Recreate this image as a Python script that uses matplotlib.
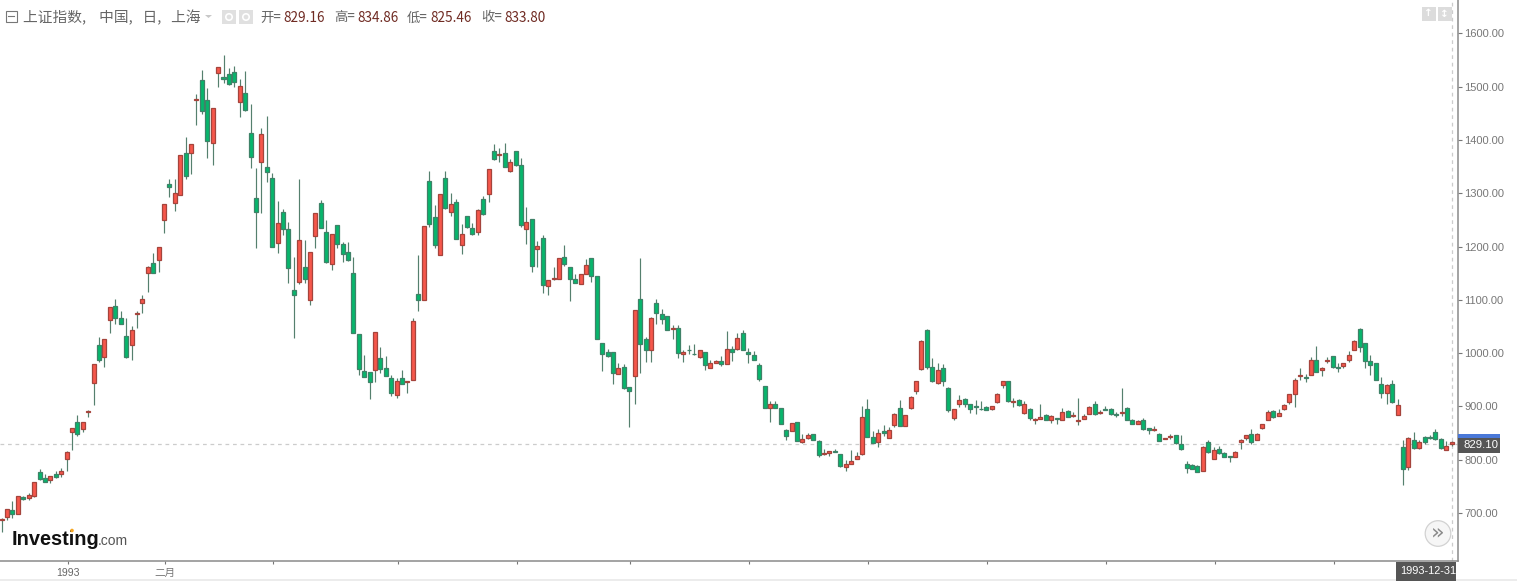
import matplotlib
matplotlib.use("Agg")
import matplotlib.pyplot as plt
import matplotlib.transforms as mtransforms
from matplotlib.patches import Rectangle, Circle, Polygon
import numpy as np

plt.rcParams["font.family"] = ["Noto Sans CJK SC", "DejaVu Sans"]

opens = [
    687, 692.7, 706.5, 699, 730.9, 729, 731.5, 776.6, 765.3, 762,
    774, 774, 801.6, 851.7, 871.7, 857.3, 889.5, 944.3, 1016.2, 992.4,
    1062.5, 1088.8, 1066.3, 1032.5, 1015.6, 1073.5, 1095, 1149.5, 1168.3, 1174.6,
    1249.6, 1316.6, 1282.2, 1297.2, 1374.8, 1374.8, 1474.3, 1512.4, 1474.3, 1394.2,
    1525.6, 1517.4, 1523, 1526.8, 1471.8, 1488.7, 1412.3, 1290.3, 1358.5, 1349.7,
    1327.9, 1207, 1264.6, 1232.1, 1118.2, 1133.3, 1160.8, 1099.4, 1219.6, 1281.5,
    1227.1, 1167.1, 1239.6, 1204, 1189.6, 1149.5, 1036.2, 966.2, 964.3, 969.3,
    991.2, 973, 953, 921.7, 953, 945.5, 949.2, 1110.7, 1100.6, 1322.8,
    1255.8, 1183.2, 1327.8, 1264.6, 1282.7, 1203.3, 1257.7, 1233.9, 1227, 1288.4,
    1299, 1379.7, 1371, 1376, 1342, 1379.7, 1353.4, 1232, 1250.8, 1194.5,
    1216.4, 1125.7, 1138.2, 1140, 1180.1, 1162, 1140, 1129.4, 1148.8, 1178.2,
    1144.4, 1019.9, 1003, 1001.8, 961.7, 974.9, 937.3, 958, 1102.5, 1025.6,
    1006.8, 1093.8, 1072.5, 1070.6, 1045, 1046.8, 998, 1006, 999.3, 993.6,
    1003, 973, 981.8, 984.9, 979.9, 1007.4, 1008, 1038, 1001.8, 996.8,
    977.4, 938.6, 897.3, 904.8, 897.3, 856, 854, 870.4, 833.5, 841,
    848.5, 834.8, 811, 812.2, 816.6, 811, 786.6, 792.2, 801.6, 810.4,
    895.5, 842.9, 833.5, 854.2, 841.7, 866, 897.3, 862.9, 896.7, 929.9,
    969.9, 1043.1, 974.3, 944.3, 973, 934.2, 878.6, 904.2, 914.2, 904.8,
    900.5, 896.1, 899.2, 895.5, 908, 939.9, 948, 908, 911.7, 887.9,
    895.5, 875.5, 877.3, 884.8, 875.5, 877.9, 875.5, 892.3, 883, 873.6,
    877.3, 886.1, 904.8, 887.9, 896.1, 895.5, 886.7, 887.9, 897.9, 874.2,
    867.9, 874.2, 859.8, 855.4, 849.2, 839.2, 842.9, 847.3, 829.1, 792.2,
    789.7, 787.8, 779.7, 834.1, 801.6, 821, 812.9, 806.6, 805.4, 833.5,
    840.4, 848.5, 837.3, 859.2, 875.5, 891.7, 882.3, 894.8, 908, 924.2,
    956.2, 954.9, 959.9, 987.4, 969.3, 985.6, 995, 974.9, 976.8, 987.4,
    1006.8, 1045, 1018.1, 985.6, 982.4, 942.4, 925.5, 943, 884.2, 823.5,
    786.6, 837.9, 821.6, 842.3, 842.3, 852.3, 839.8, 819.1, 829.16,
]

closes = [
    688, 707.7, 699, 731.5, 725.9, 733.4, 758.4, 764, 758.4, 769,
    767.8, 779.7, 814.7, 859, 848.5, 870.4, 891, 978.7, 986.8, 1025.6,
    1086.9, 1065, 1055.6, 992.4, 1043, 1075, 1101.3, 1162, 1150.8, 1198.3,
    1279.7, 1311, 1300.9, 1371, 1332.9, 1392.9, 1476, 1454.2, 1397.9, 1459.9,
    1537.5, 1513.7, 1504, 1508, 1501.2, 1455.5, 1367.3, 1264.6, 1411, 1340.4,
    1199.6, 1244.6, 1232.7, 1160.2, 1109.4, 1211.5, 1139.5, 1189.6, 1263.4, 1235.2,
    1171.4, 1223.4, 1204, 1185.2, 1174.6, 1037.5, 970.5, 956.1, 946.1, 1040,
    970.5, 958, 925.5, 948, 943, 948, 1060, 1100.6, 1238.3, 1242.7,
    1202.6, 1297.7, 1272, 1279.6, 1214.5, 1223.3, 1235.8, 1222.7, 1268.3, 1261.4,
    1346, 1363.4, 1372.8, 1349.7, 1357.8, 1353.4, 1240.8, 1246.4, 1163.8, 1200.1,
    1127.5, 1136.9, 1140.7, 1178.2, 1167, 1140, 1131.3, 1147.6, 1165.7, 1143.8,
    1026.8, 998, 994.9, 963.6, 973, 934.8, 929.8, 1081.2, 1018, 1005.5,
    1065, 1075, 1064.4, 1044.3, 1046.8, 999.9, 1001.8, 1005, 998, 1006.8,
    978.6, 981.8, 985.5, 979.3, 1007.4, 1003, 1029.3, 1006.8, 998, 987.4,
    952.3, 897.3, 904.8, 897.3, 867.9, 845.4, 869.8, 835.4, 839.8, 847.3,
    837.9, 808.5, 812.9, 816, 814.7, 787.8, 792.8, 798.5, 807.9, 881,
    842.9, 832.3, 851, 849.8, 856.7, 886.7, 862.9, 883.6, 917.4, 948,
    1023.7, 974.3, 947.4, 969.3, 947.4, 893, 896.1, 911.7, 904.2, 895.5,
    899.2, 894.8, 893.6, 900.5, 923, 948, 909.9, 909.9, 902.3, 904.2,
    878.6, 877.3, 881, 875.5, 881.7, 876.7, 890.5, 881, 884.2, 875.5,
    881.7, 899.2, 886.1, 890.5, 894.2, 886.1, 883.6, 889.2, 875.5, 867.9,
    872.3, 858.5, 855.4, 857.9, 836, 840.4, 845.4, 831.6, 819.8, 785.3,
    783.5, 777.8, 824.8, 814.1, 817.9, 812.2, 806, 805.4, 814.7, 837.9,
    846.7, 833.5, 849.2, 866.7, 890.5, 880.4, 888.6, 902.3, 924.2, 949.3,
    958.7, 953, 987.4, 965.5, 973, 986.8, 974.3, 973, 980.6, 996.8,
    1023.1, 1011.2, 985.6, 978, 950.5, 926.1, 939.9, 908, 903, 783.5,
    841.7, 821.6, 834.1, 833.5, 840.4, 839.2, 821.6, 826.6, 833.8,
]

highs = [
    690.8, 708, 722.8, 731.5, 731.5, 737.8, 759, 782.8, 774, 770.3,
    779, 784.7, 817, 860.4, 884.8, 871.7, 894, 979.3, 1029.4, 1025.6,
    1087.5, 1101.3, 1079.4, 1065, 1050.6, 1079.4, 1110, 1163, 1188.3, 1198.3,
    1279.7, 1326.6, 1326.6, 1371, 1406, 1392.9, 1485.5, 1531, 1498, 1459.9,
    1537.5, 1559.4, 1534.3, 1539.3, 1515, 1529.3, 1467.4, 1346.6, 1421.7, 1445.5,
    1338.5, 1285.3, 1269.7, 1245.3, 1180.8, 1326.6, 1212, 1190, 1263.4, 1287.2,
    1249.6, 1223.4, 1239.6, 1207.7, 1207.7, 1180.8, 1036.2, 996.2, 964.3, 1040,
    1010.6, 994, 958.6, 954.3, 968, 948, 1065, 1185, 1238.5, 1341,
    1278.3, 1297.7, 1341, 1299.6, 1288.4, 1242, 1258, 1243.3, 1269.6, 1295.2,
    1346, 1391.6, 1384, 1393.5, 1364.7, 1379.7, 1366, 1274.6, 1250.8, 1210.8,
    1221.4, 1136.9, 1160.7, 1178.2, 1202.6, 1162, 1149.4, 1147.6, 1175.7, 1178.2,
    1144.4, 1019.9, 1008.7, 1001.8, 981.8, 980.5, 937.3, 1081.2, 1178.9, 1030.6,
    1068, 1102.5, 1081.9, 1070.6, 1052.5, 1052.5, 1005.5, 1015, 1016.8, 1006.8,
    1003, 988, 988, 995.5, 1041.8, 1013, 1038.7, 1044.3, 1010.5, 1004.3,
    982.4, 938.6, 910.4, 910.4, 897.3, 858.5, 869.8, 870.4, 847.9, 851,
    849.2, 837.9, 819.8, 816.6, 820.4, 811, 800.4, 817.9, 814.1, 901.1,
    914.2, 854.2, 857.3, 864.8, 861.7, 887.9, 913, 883.6, 919.2, 948,
    1024.4, 1044.4, 990.6, 980.6, 979.3, 936.8, 896.1, 921.1, 916.7, 904.8,
    911.7, 909.9, 901.7, 901.7, 926.1, 948, 948, 916.7, 914.2, 909.9,
    896.7, 879.2, 905.5, 886.7, 883.6, 879.2, 897.9, 893, 889.2, 916.1,
    885.5, 900.5, 910.5, 893, 901.7, 897.9, 890.5, 935.5, 899.2, 877.3,
    874.2, 879.2, 860.4, 864.2, 850.4, 841, 847.9, 847.3, 846, 798.5,
    792.8, 789.7, 826.6, 836.6, 824.1, 825.4, 815.4, 807.9, 816, 839.2,
    847.3, 858.5, 851, 867.9, 894.2, 893, 896.1, 904.2, 924.2, 954.3,
    971.2, 961.8, 993, 1013.1, 974.3, 993, 995, 981.8, 982.4, 1004.3,
    1024.4, 1046.3, 1018.1, 995.6, 982.4, 955.5, 943, 950.5, 914.2, 836.6,
    842.3, 852.3, 836.6, 845.4, 846, 857.3, 841, 835.4, 834.86,
]

lows = [
    664.6, 686.5, 690.9, 699, 725, 724, 731, 762.8, 757.8, 756.5,
    766, 767.8, 779, 819, 844, 851.7, 880.4, 903.6, 983.7, 973.7,
    1036.9, 1055, 1054.4, 991.8, 986.8, 1048, 1075, 1115, 1149.5, 1152.6,
    1224.6, 1293.4, 1267.2, 1297.2, 1326.6, 1336, 1428, 1448.6, 1366, 1353.5,
    1500, 1506.2, 1503, 1498.7, 1442.4, 1454.9, 1347.2, 1197.7, 1262, 1321.6,
    1199.6, 1188.3, 1220.9, 1132, 1027.5, 1130, 1130.7, 1090.7, 1196.5, 1234.6,
    1170, 1155.8, 1196.5, 1171.4, 1173.3, 1037, 958.6, 955, 914.8, 946.8,
    963, 956.8, 920.5, 915.7, 941.7, 925.5, 949, 1078.7, 1100, 1237,
    1197.6, 1183.2, 1270.8, 1256.4, 1214, 1186.4, 1235, 1221.4, 1220.8, 1260,
    1284, 1362, 1359, 1348.4, 1339, 1351.5, 1235.8, 1204.5, 1152.6, 1161.3,
    1112.5, 1108.8, 1138, 1140, 1163.2, 1097.5, 1130.7, 1129.4, 1148.8, 1133.8,
    1026.8, 966.7, 993.6, 943, 960.5, 933.6, 861.6, 905.4, 963, 983,
    983, 1055, 1055.6, 1043, 1026, 991.8, 983, 999, 996.8, 990.5,
    968.6, 971.7, 981, 975.5, 979.5, 984.9, 1006.8, 1005.5, 981.8, 986.8,
    948, 897.3, 871, 896.7, 866.6, 836.6, 854, 835.4, 831.6, 839.8,
    837.9, 805.4, 809.7, 806.6, 814.1, 787.2, 779.1, 791.6, 801, 809.7,
    842.3, 831.6, 824.8, 845.4, 841, 861.7, 862.9, 862.9, 895.5, 923,
    968.7, 970.6, 946.2, 943, 939.3, 889.2, 874.2, 899.2, 898.6, 887.3,
    886.1, 894.2, 893, 894.2, 906.7, 934.2, 909.2, 899.2, 901.7, 886.7,
    875.5, 867.3, 876.7, 874.2, 869.8, 867.9, 874.8, 879.8, 881, 865.4,
    876.7, 885.5, 884.8, 886.1, 893, 884.8, 881, 881.7, 874.8, 867.3,
    867.3, 856.7, 849.2, 854.8, 835.4, 838.5, 839.8, 830.4, 819.1, 775.3,
    782.8, 777.2, 779.1, 812.9, 801, 811.6, 805.4, 796, 804.7, 820.4,
    837.3, 829.1, 836.6, 858.5, 874.2, 879.2, 881.7, 894.2, 905.5, 899.8,
    950.5, 946.2, 959.3, 964.3, 957.4, 980.6, 973, 964.9, 973, 983.7,
    1005.6, 1002.5, 972.4, 958.7, 949.3, 916.7, 905.5, 907.4, 883.6, 752.2,
    781, 821, 821, 829.1, 839.2, 837.9, 821, 817.9, 825.46,
]

price_ticks = [700, 800, 900, 1000, 1100, 1200, 1300, 1400, 1500, 1600]
month_ticks = [12, 30, 50, 73, 95, 116, 138, 160, 182, 204, 224, 246]
month_labels = ["1993", "二月", "", "", "", "", "", "", "", "", "", ""]
last_price = 829.10
header_quotes = [("开=", "829.16"), ("高=", "834.86"), ("低=", "825.46"), ("收=", "833.80")]

W, H = 1517, 581
GREEN, GREEN_EDGE = "#06b66c", "#3f8268"
RED, RED_EDGE = "#f6574b", "#a5443c"
WICK = "#55806e"
GREY = "#777777"

fig = plt.figure(figsize=(W / 100, H / 100), dpi=100)
ax = fig.add_axes([0, 1 - 561.3 / H, 1457.6 / W, 561.3 / H])

# pixel coordinates measured from the top left, for the chart furniture
px = mtransforms.Affine2D().scale(1, -1).translate(0, H)

o = np.array(opens)
c = np.array(closes)
x = np.arange(len(o))
up = c > o

ax.vlines(x, lows, highs, color=WICK, linewidth=0.85, zorder=2)
ax.bar(x[up], (c - o)[up], bottom=o[up], width=0.74, color=RED, edgecolor=RED_EDGE, linewidth=0.9, zorder=3)
ax.bar(x[~up], (o - c)[~up], bottom=c[~up], width=0.74, color=GREEN, edgecolor=GREEN_EDGE, linewidth=0.9, zorder=3)

# crosshair at the last bar
ax.axhline(last_price, color="#cccccc", linewidth=0.9, dashes=(3, 3), zorder=1)
ax.axvline(len(o) - 1 + 0.1, color="#cccccc", linewidth=0.9, dashes=(3, 3), zorder=1)

ax.set_xlim(-0.31, 269.1)
ax.set_ylim(609.5, 1662.5)
ax.yaxis.tick_right()
ax.set_yticks(price_ticks)
ax.set_yticklabels([f"{p:.2f}" for p in price_ticks], family=["Liberation Sans"], fontsize=8, color=GREY)
ax.set_xticks(np.array(month_ticks) + 0.2)
ax.set_xticklabels(month_labels, fontsize=7.6, color=GREY)
ax.get_xticklabels()[0].set_family(["Liberation Sans"])
ax.get_xticklabels()[0].set_color("#666666")
ax.tick_params(axis="y", length=2.6, width=0.8, color="#777777", pad=2.4)
ax.tick_params(axis="x", length=2.4, width=0.8, color="#777777", pad=2.5)
for side in ["top", "left"]:
    ax.spines[side].set_visible(False)
for side in ["right", "bottom"]:
    ax.spines[side].set_color("#8a8a8a")
    ax.spines[side].set_linewidth(1.1)

# strip along the bottom edge
fig.add_artist(Rectangle((0, 579), W, 2, transform=px, color="#ececec", linewidth=0))

# header
fig.add_artist(Rectangle((5.5, 10.5), 11, 11, transform=px, fill=False, edgecolor="#777777", linewidth=0.8))
fig.add_artist(plt.Line2D([8, 14], [16, 16], transform=px, color="#777777", linewidth=0.8))
fig.text(23, 17.5, "上证指数,    中国,   日,   上海", transform=px, fontsize=10.6, color="#666666", va="center")
fig.add_artist(Polygon([(205, 15), (212, 15), (208.5, 18)], transform=px, color="#c8c8c8", linewidth=0))
for bx in [222, 239]:
    fig.add_artist(Rectangle((bx, 10), 14, 14, transform=px, color="#e0e0e0", linewidth=0))
    fig.add_artist(Circle((bx + 7, 17), 3.2, transform=px, facecolor="none", edgecolor="white", linewidth=1.2))
for qx, (label, value) in zip([260, 334, 407, 481], header_quotes):
    fig.text(qx, 17.5, label, transform=px, fontsize=9.6, color="#666666", va="center")
    fig.text(qx + 23, 17.5, value, transform=px, fontsize=9.8, color="#6f2a22", va="center")

# top right scale buttons
for bx, arrow in [(1422, "↑"), (1438, "↕")]:
    fig.add_artist(Rectangle((bx, 7), 13.5, 13.5, transform=px, color="#dcdcdc", linewidth=0))
    fig.text(bx + 6.7, 13.5, arrow, transform=px, family="DejaVu Sans", fontsize=7.5, color="white",
             ha="center", va="center", fontweight="bold")

# watermark
fig.text(12, 545, "Investing", transform=px, family="Liberation Sans", fontsize=14.4, fontweight="bold", color="#111111")
fig.text(98, 545, ".com", transform=px, family="Liberation Sans", fontsize=10, color="#555555")
fig.add_artist(Circle((72, 530.5), 1.8, transform=px, color="#f5a623", linewidth=0, zorder=10))

# scroll button
fig.add_artist(Circle((1438, 533.5), 12.8, transform=px, facecolor="#f6f6f6", edgecolor="#d2d2d2", linewidth=0.9))
fig.text(1438, 532, "»", transform=px, family="DejaVu Sans", fontsize=16, color="#8a8a8a", ha="center", va="center")

# last price and date boxes
fig.add_artist(Rectangle((1458, 434), 42, 3.7, transform=px, color="#4a78d8", linewidth=0))
fig.add_artist(Rectangle((1458, 437.7), 42, 15.3, transform=px, color="#555555", linewidth=0))
fig.text(1464, 445.5, f"{last_price:.2f}", transform=px, family="Liberation Sans", fontsize=8.2, color="white", va="center")
fig.add_artist(Rectangle((1396, 561.7), 60, 19.3, transform=px, color="#555555", linewidth=0))
fig.text(1400, 571.5, "1993-12-31", transform=px, family="Liberation Sans", fontsize=7.9, color="white", va="center")

fig.savefig("out.png", dpi=100)
